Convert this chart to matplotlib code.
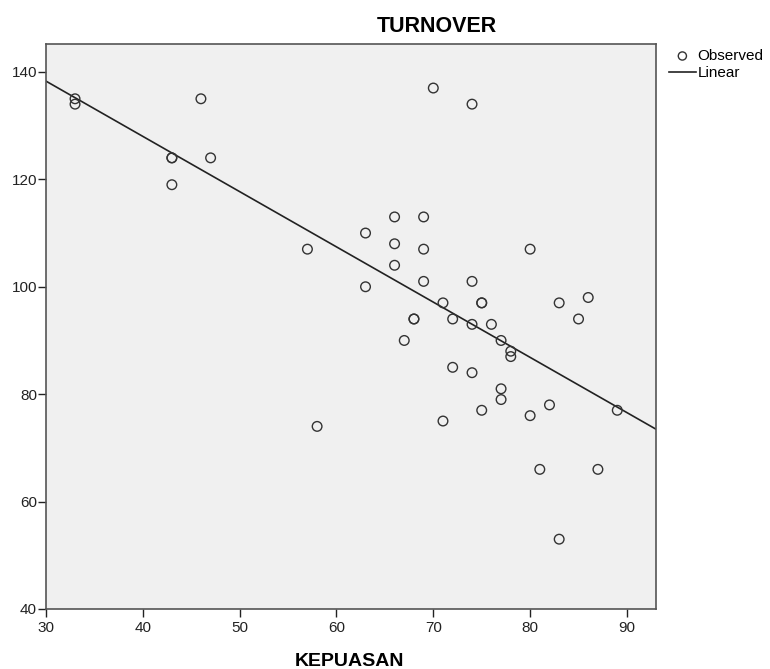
import matplotlib.pyplot as plt
import numpy as np

plt.rcParams["font.family"] = ["Liberation Sans", "DejaVu Sans"]

kepuasan = [33, 33, 43, 43, 43, 46, 47, 57, 58, 63, 63, 66, 66, 66, 67, 68, 68,
            69, 69, 69, 70, 71, 71, 72, 72, 74, 74, 74, 74, 75, 75, 75, 76, 77,
            77, 77, 78, 78, 80, 80, 81, 82, 83, 83, 85, 86, 87, 89]
turnover = [135, 134, 124, 124, 119, 135, 124, 107, 74, 110, 100, 113, 108, 104,
            90, 94, 94, 113, 107, 101, 137, 97, 75, 94, 85, 134, 101, 93, 84, 97,
            97, 77, 93, 90, 81, 79, 88, 87, 107, 76, 66, 78, 97, 53, 94, 98, 66, 77]
x_ticks = [30, 40, 50, 60, 70, 80, 90]
y_ticks = [40, 60, 80, 100, 120, 140]

x = np.array(kepuasan)
y = np.array(turnover)
slope, intercept = np.polyfit(x, y, 1)

W, H = 770, 669
fig = plt.figure(figsize=(W / 100, H / 100), dpi=100)
ax = fig.add_axes([46 / W, 1 - 609 / H, 610 / W, 565 / H])
ax.set_facecolor("#f0f0f0")

ax.scatter(x, y, s=48, facecolors="none", edgecolors="#333333", linewidths=1.0,
           label="Observed", zorder=3)
xs = np.array([30, 93])
ax.plot(xs, intercept + slope * xs, color="#222222", linewidth=1.2,
        label="Linear", zorder=2)

ax.set_xlim(30, 93)
ax.set_ylim(40, 145.2)
ax.set_xticks(x_ticks)
ax.set_yticks(y_ticks)
ax.tick_params(direction="out", length=6, width=1, labelsize=11,
               colors="#222222")
ax.tick_params(axis="x", pad=3)
ax.tick_params(axis="y", pad=0.5)
for s in ax.spines.values():
    s.set_color("#555555")
    s.set_linewidth(1.2)

fig.text(436.5 / W, 1 - 26 / H, "TURNOVER", fontsize=15.5, fontweight="bold",
         ha="center", va="center")
fig.text(350 / W, 1 - 666 / H, "KEPUASAN", fontsize=14, fontweight="bold",
         ha="center", va="baseline")

fig.legend(*ax.get_legend_handles_labels(), loc="upper left",
           bbox_to_anchor=(669 / W, 1 - 49 / H), frameon=False,
           fontsize=11, handlelength=1.75, handletextpad=0.1, borderpad=0,
           borderaxespad=0, labelspacing=0.22, markerscale=0.85)

fig.savefig("out.png", dpi=100)
